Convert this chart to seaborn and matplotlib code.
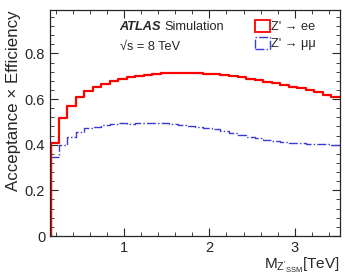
import numpy as np
import pandas as pd
import seaborn as sns
import matplotlib.pyplot as plt
from matplotlib.patches import Patch
from matplotlib.ticker import MultipleLocator, AutoMinorLocator

# bin edges in TeV (0.1 TeV bins)
mass_edges = [round(0.13 + 0.1 * i, 2) for i in range(35)]
mass_centers = [(a + b) / 2 for a, b in zip(mass_edges[:-1], mass_edges[1:])]

eff_ee = [0.409, 0.515, 0.569, 0.610, 0.636, 0.654, 0.666, 0.680, 0.689, 0.695,
          0.700, 0.707, 0.711, 0.714, 0.714, 0.715, 0.715, 0.714, 0.711, 0.708,
          0.704, 0.699, 0.695, 0.689, 0.683, 0.676, 0.669, 0.661, 0.654, 0.647,
          0.638, 0.629, 0.618, 0.607]
eff_mumu = [0.347, 0.399, 0.435, 0.457, 0.472, 0.479, 0.486, 0.491, 0.493, 0.491,
            0.493, 0.495, 0.496, 0.493, 0.491, 0.488, 0.483, 0.479, 0.474, 0.467,
            0.460, 0.450, 0.442, 0.435, 0.428, 0.420, 0.415, 0.410, 0.407, 0.406,
            0.404, 0.403, 0.401, 0.400]

sns.set_style("ticks")
plt.rcParams["font.family"] = ["Liberation Sans", "DejaVu Sans"]
plt.rcParams["mathtext.fontset"] = "custom"
plt.rcParams["mathtext.rm"] = "Liberation Sans"
plt.rcParams["mathtext.it"] = "Liberation Sans"

df = pd.DataFrame({"mass": mass_centers, "ee": eff_ee, "mumu": eff_mumu})

fig = plt.figure(figsize=(3.45, 2.78), dpi=100)
ax = fig.add_axes([0.145, 0.151, 0.84, 0.813])

sns.histplot(data=df, x="mass", weights="mumu", bins=mass_edges, element="step",
             fill=False, color="#3a3ad8", linewidth=1.0, linestyle="-.", ax=ax)
sns.histplot(data=df, x="mass", weights="ee", bins=mass_edges, element="step",
             fill=False, color="#ff0000", linewidth=1.6, ax=ax)
# histogram drops to zero at the low edge
ax.plot([mass_edges[0], mass_edges[0]], [0, eff_ee[0]], color="#ff0000", lw=2.5)

ax.set_xlim(mass_edges[0], mass_edges[-1])
ax.set_ylim(0, 0.99)
ax.xaxis.set_major_locator(MultipleLocator(1))
ax.xaxis.set_minor_locator(AutoMinorLocator(5))
ax.yaxis.set_major_locator(MultipleLocator(0.2))
ax.yaxis.set_minor_locator(AutoMinorLocator(5))
ax.set_yticks([0, 0.2, 0.4, 0.6, 0.8])
ax.set_yticklabels(["0", "0.2", "0.4", "0.6", "0.8"])
ax.tick_params(which="both", direction="in", top=True, right=True, labelsize=10.5)
ax.tick_params(which="major", length=6, width=0.8)
ax.tick_params(which="minor", length=3, width=0.6)
for s in ax.spines.values():
    s.set_linewidth(0.9)

ax.set_xlabel(r"M$_{\mathrm{Z'_{SSM}}}$[TeV]", fontsize=11, loc="right", labelpad=1)
ax.set_ylabel("Acceptance × Efficiency", fontsize=12.2, loc="top", labelpad=3)

ax.text(0.24, 0.95, "ATLAS", transform=ax.transAxes, fontsize=9.2,
        fontweight="bold", fontstyle="italic", va="top")
ax.text(0.395, 0.95, "Simulation", transform=ax.transAxes, fontsize=9.2, va="top")
ax.text(0.24, 0.865, "√s = 8 TeV", transform=ax.transAxes, fontsize=9.2, va="top")

handles = [Patch(facecolor="none", edgecolor="#ff0000", linewidth=1.3),
           Patch(facecolor="none", edgecolor="#3a3ad8", linewidth=1.0, linestyle="-.")]
ax.legend(handles, ["Z' → ee", "Z' → μμ"], loc="upper right", frameon=False,
          fontsize=9.2, handlelength=1.1, handleheight=1.1, handletextpad=0.15,
          labelspacing=0.25, borderaxespad=0.2, bbox_to_anchor=(0.945, 0.99))

fig.savefig("out.png", dpi=100)
